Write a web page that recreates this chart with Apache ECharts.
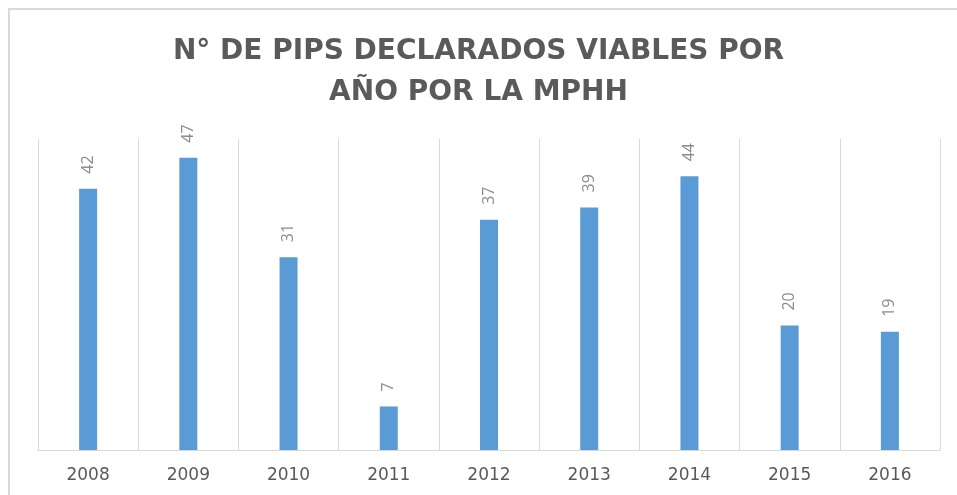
<!DOCTYPE html>
<html>
<head>
<meta charset="utf-8">
<script src="https://cdn.jsdelivr.net/npm/echarts@6/dist/echarts.min.js"></script>
<style>
html,body{margin:0;padding:0;background:#fff;}
#chart{position:absolute;left:0;top:0;width:957px;height:495px;}
#frame{position:absolute;left:8px;top:8px;width:949px;height:487px;border-top:2px solid #d9d9d9;border-left:2px solid #d9d9d9;box-sizing:border-box;pointer-events:none;}
</style>
</head>
<body>
<div id="chart"></div>
<div id="frame"></div>
<script>
const titleLines = ['N° DE PIPS DECLARADOS VIABLES POR', 'AÑO POR LA MPHH'];
const years = ['2008', '2009', '2010', '2011', '2012', '2013', '2014', '2015', '2016'];
const pipsViables = [42, 47, 31, 7, 37, 39, 44, 20, 19];

const chart = echarts.init(document.getElementById('chart'), null, {renderer: 'canvas'});
chart.setOption({
  animation: false,
  backgroundColor: '#ffffff',
  title: {
    text: titleLines.join('\n'),
    left: 'center',
    top: 26,
    textStyle: {
      fontFamily: 'DejaVu Sans',
      fontWeight: 'bold',
      fontSize: 28,
      lineHeight: 41,
      color: '#5a5a5a'
    }
  },
  grid: {left: 38, right: 17, top: 139, bottom: 45, containLabel: false},
  xAxis: {
    type: 'category',
    data: years,
    boundaryGap: true,
    axisLine: {show: true, lineStyle: {color: '#d9d9d9', width: 1}},
    axisTick: {show: false},
    splitLine: {show: true, lineStyle: {color: '#d9d9d9', width: 1}},
    axisLabel: {
      margin: 17,
      fontFamily: 'DejaVu Sans',
      fontSize: 17,
      color: '#595959'
    }
  },
  yAxis: {
    type: 'value',
    min: 0,
    max: 50,
    show: false,
    splitLine: {show: false}
  },
  series: [{
    type: 'bar',
    data: pipsViables,
    barWidth: 18,
    itemStyle: {color: '#5b9bd5'},
    label: {
      show: true,
      position: 'top',
      distance: 15,
      rotate: 90,
      align: 'left',
      verticalAlign: 'middle',
      fontFamily: 'Open Sans',
      fontSize: 16,
      color: '#8c8c8c'
    }
  }]
});
</script>
</body>
</html>
